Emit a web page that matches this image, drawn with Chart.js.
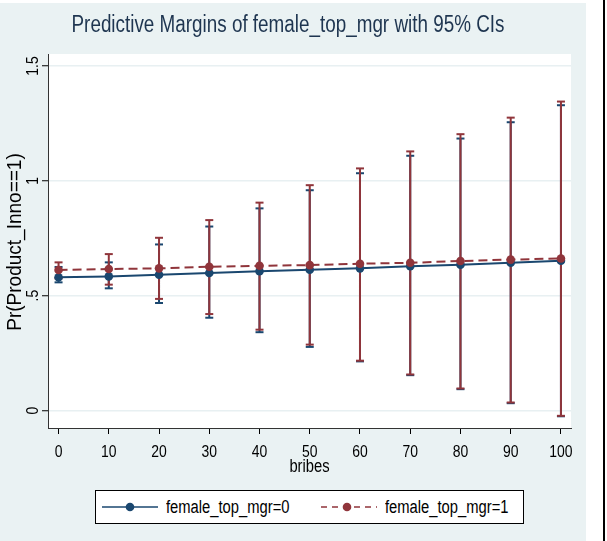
<!DOCTYPE html>
<html><head><meta charset="utf-8">
<script src="https://cdn.jsdelivr.net/npm/chart.js@4.4.0/dist/chart.umd.min.js"></script>
<style>
html,body{margin:0;padding:0;background:#fff;width:607px;height:541px;overflow:hidden;}
#bg{position:absolute;left:0;top:3px;width:586px;height:538px;background:#EAF2F3;}
#vline{position:absolute;left:603px;top:0;width:2px;height:541px;background:#000;}
#title{position:absolute;left:0;width:576px;top:11px;text-align:center;font-size:23px;line-height:26px;color:#1E3550;white-space:nowrap;transform:scaleX(0.82);transform-origin:288px 0;}
.f{font-family:"Liberation Sans",Arial,sans-serif;}
#c{position:absolute;left:0;top:0;}
#legend{position:absolute;left:95px;top:490px;width:427px;height:32px;border:1px solid #000;background:#fff;}
#legend svg{position:absolute;top:0;}
#legend span{position:absolute;top:5px;font-size:18px;line-height:22px;color:#000;white-space:nowrap;transform:scaleX(0.82);transform-origin:0 0;}
</style></head>
<body>
<div id="bg"></div>
<div id="vline"></div>
<canvas id="c" width="607" height="541"></canvas>
<div id="title" class="f">Predictive Margins of female_top_mgr with 95% CIs</div>
<div id="legend" class="f">
  <svg style="left:5px" width="58" height="32"><line x1="1" y1="16" x2="57" y2="16" stroke="#1A476F" stroke-width="1.6"/><circle cx="29" cy="16" r="4.3" fill="#1A476F"/></svg>
  <span style="left:70px">female_top_mgr=0</span>
  <svg style="left:224px" width="58" height="32"><line x1="1" y1="16" x2="57" y2="16" stroke="#90353B" stroke-width="1.6" stroke-dasharray="6,5"/><circle cx="27" cy="16" r="4.3" fill="#90353B"/></svg>
  <span style="left:289px">female_top_mgr=1</span>
</div>
<script>
// ---- data ----
const bribes = [0,10,20,30,40,50,60,70,80,90,100];
const margin0 = [0.580,0.584,0.591,0.599,0.606,0.613,0.619,0.628,0.635,0.643,0.652];
const lower0  = [0.558,0.532,0.468,0.404,0.341,0.277,0.214,0.154,0.093,0.032,-0.025];
const upper0  = [0.625,0.645,0.723,0.801,0.880,0.959,1.033,1.109,1.184,1.255,1.329];
const margin1 = [0.612,0.616,0.619,0.626,0.630,0.633,0.639,0.643,0.651,0.657,0.662];
const lower1  = [0.575,0.548,0.486,0.420,0.352,0.287,0.217,0.157,0.096,0.035,-0.023];
const upper1  = [0.645,0.681,0.752,0.829,0.905,0.981,1.054,1.128,1.203,1.275,1.345];
const yTicks = [0,0.5,1,1.5];
const yTickLabels = ['0','.5','1','1.5'];
const seriesLabels = ['female_top_mgr=0','female_top_mgr=1'];
const xTitle = 'bribes';
const yTitle = 'Pr(Product_Inno==1)';

const BLUE='#1A476F', RED='#90353B';
const FONT='"Liberation Sans",Arial,sans-serif';
const NARROW=0.82;

function ciData(lo,hi){
  const out=[];
  bribes.forEach((x,i)=>{ out.push({x:x,y:lo[i]}); out.push({x:x,y:hi[i]}); out.push({x:x,y:null}); });
  return out;
}
function pts(m){ return bribes.map((x,i)=>({x:x,y:m[i]})); }

const plotBg={id:'plotBg',beforeDraw(ch){const a=ch.chartArea,c=ch.ctx;c.save();c.fillStyle='#fff';c.fillRect(a.left,a.top,a.right-a.left,a.bottom-a.top);c.restore();}};

function narrowText(c,txt,x,y,rot,size,sx){
  c.save();c.translate(x,y);if(rot)c.rotate(rot);c.scale(sx,1);
  c.font=size+'px '+FONT;c.textAlign='center';c.textBaseline='middle';c.fillText(txt,0,0);c.restore();
}
const axisText={id:'axisText',afterDraw(ch){
  const c=ch.ctx,xs=ch.scales.x,ys=ch.scales.y;
  c.save();c.fillStyle='#000';
  bribes.forEach(v=>narrowText(c,String(v),xs.getPixelForValue(v),452,0,17,NARROW));
  yTicks.forEach((v,i)=>narrowText(c,yTickLabels[i],33,ys.getPixelForValue(v),-Math.PI/2,17,NARROW));
  narrowText(c,xTitle,(xs.left+xs.right)/2,467,0,18,NARROW);
  narrowText(c,yTitle,15,242,-Math.PI/2,20,0.95);
  c.restore();
}};

new Chart(document.getElementById('c'),{
  type:'line',
  data:{datasets:[
    {label:seriesLabels[1],data:pts(margin1),borderColor:RED,backgroundColor:RED,borderWidth:2,borderDash:[9,5],pointRadius:4.3,pointBorderWidth:0,pointBackgroundColor:RED},
    {label:seriesLabels[0],data:pts(margin0),borderColor:BLUE,backgroundColor:BLUE,borderWidth:2,pointRadius:4.3,pointBorderWidth:0,pointBackgroundColor:BLUE},
    {label:'ci1',data:ciData(lower1,upper1),borderColor:RED,borderWidth:2,pointStyle:'line',pointRadius:4,pointBorderWidth:2,pointBorderColor:RED,spanGaps:false},
    {label:'ci0',data:ciData(lower0,upper0),borderColor:BLUE,borderWidth:2,pointStyle:'line',pointRadius:4,pointBorderWidth:2,pointBorderColor:BLUE,spanGaps:false}
  ]},
  options:{
    responsive:false,animation:false,
    layout:{padding:{left:0,top:54,right:36,bottom:63}},
    plugins:{legend:{display:false},tooltip:{enabled:false},title:{display:false}},
    scales:{
      x:{type:'linear',min:-2.1,max:102,
        afterBuildTicks(s){s.ticks=bribes.map(v=>({value:v}));},
        afterFit(s){s.height=50;},
        grid:{drawOnChartArea:false,tickLength:6,tickColor:'#000',tickWidth:1},
        border:{display:true,color:'#333',width:1},
        ticks:{display:false},
        title:{display:false}
      },
      y:{type:'linear',min:-0.076,max:1.552,
        afterBuildTicks(s){s.ticks=yTicks.map(v=>({value:v}));},
        afterFit(s){s.width=48;},
        grid:{color:'#E8F0F2',lineWidth:1.5,tickLength:6,tickColor:'#000',tickWidth:1},
        border:{display:true,color:'#333',width:1},
        ticks:{display:false},
        title:{display:false}
      }
    }
  },
  plugins:[plotBg,axisText]
});
</script>
</body></html>
